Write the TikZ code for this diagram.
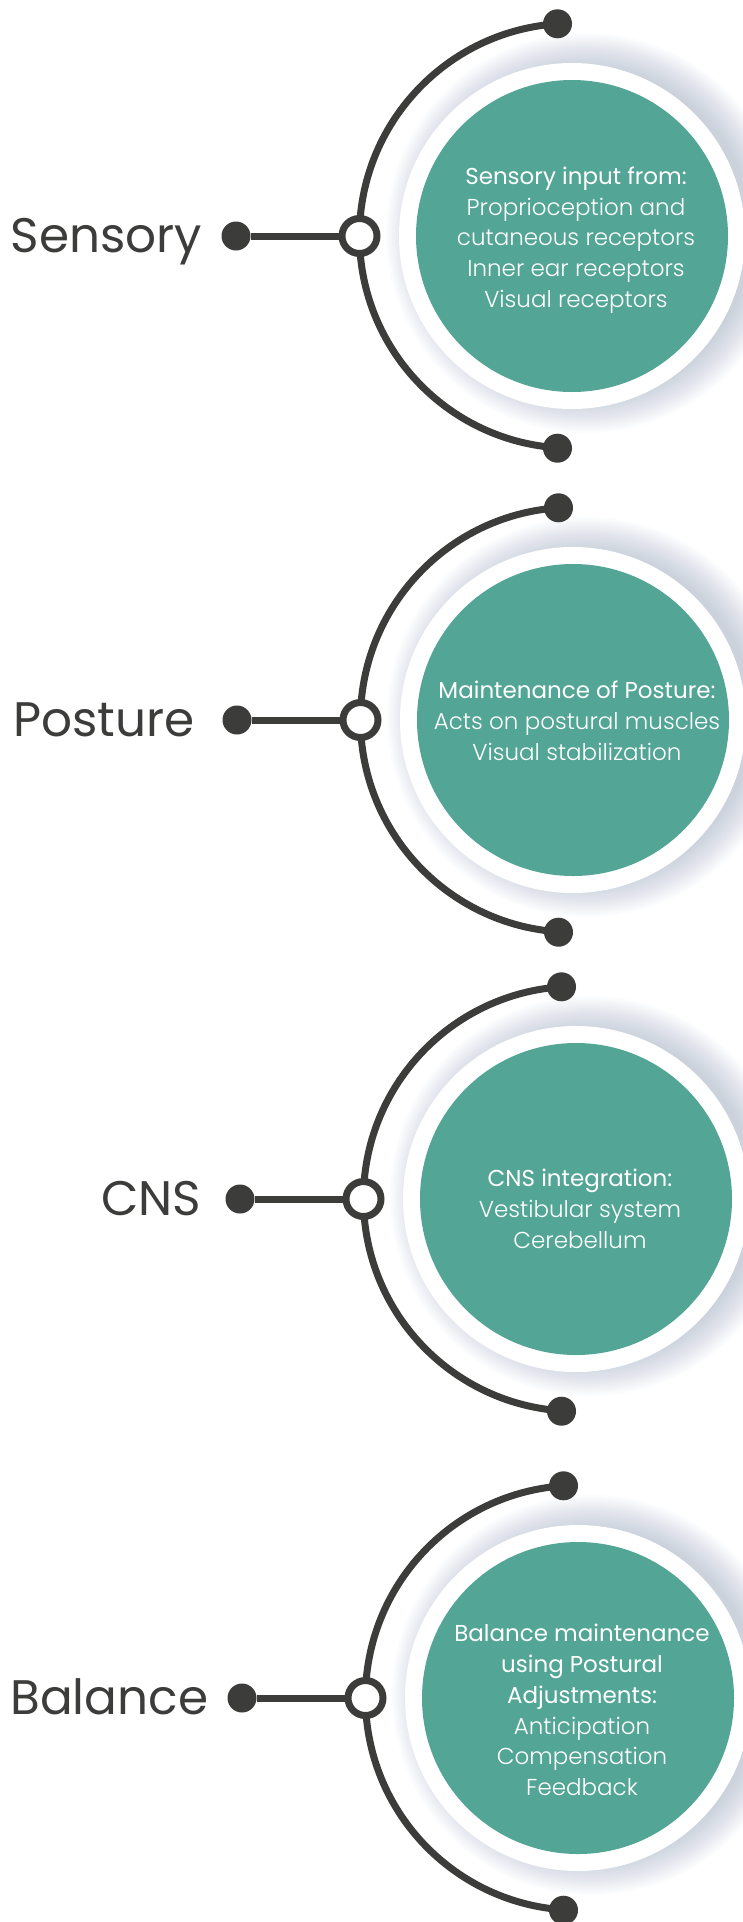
\documentclass[tikz,border=0pt]{standalone}
\usepackage{fontspec}
\setmainfont{Poppins}
\newfontfamily\poplight{Poppins Light}
\usetikzlibrary{calc}
\definecolor{tealfill}{HTML}{53A596}
\definecolor{ink}{HTML}{3C3C3B}
\definecolor{haloblue}{HTML}{8C9DB8}
\tikzset{
  enddot/.style={circle, fill=ink, inner sep=0pt, minimum size=29pt},
  hub/.style={circle, draw=ink, line width=7pt, fill=white, inner sep=0pt, minimum size=35pt},
  conn/.style={draw=ink, line width=7pt},
  stagelabel/.style={text=ink, inner sep=0pt, font=\fontsize{48.5}{52}\selectfont},
  bubble/.style={circle, fill=tealfill, inner sep=0pt, minimum size=312pt},
  bubbletext/.style={text=white, align=center, inner sep=0pt, font=\fontsize{23}{30.8}\selectfont},
}
% #1 id, #2 cx, #3 cy (downwards), #4 label, #5 text shift, #6 text, #7 label shift
\newcommand{\mystage}[7]{%
  \coordinate (c#1) at (#2,-#3);
  \foreach \k in {0,...,17}{\fill[haloblue, opacity=0.027] ($(c#1)+(14,3)$) circle[radius={166+2*\k}];}
  \fill[white] (c#1) circle[radius=173];
  \node[bubble] (b#1) at (c#1) {};
  \node[enddot] (t#1) at ($(c#1)+(-14.5,212.2)$) {};
  \node[enddot] (e#1) at ($(c#1)+(-14.5,-212.2)$) {};
  \draw[conn] (t#1.center) arc[start angle=93.9, end angle=266.1, radius=212.5];
  \node[enddot] (l#1) at ($(c#1)+(-336,0)$) {};
  \node[hub] (h#1) at ($(c#1)+(-212.5,0)$) {};
  \draw[conn] (l#1) -- (h#1);
  \node[stagelabel, anchor=base east] (n#1) at ($(l#1.west)+(-25+#7,-16.5)$) {#4};
  \node[bubbletext] (x#1) at ($(c#1)+(4,#5)$) {#6};
}
\begin{document}
\begin{tikzpicture}[x=1pt,y=1pt]
\useasboundingbox (0,0) rectangle (743,-1922);
\fill[white] (0,0) rectangle (743,-1922);
\clip (0,0) rectangle (743,-1922);
\mystage{1}{572}{236}{Sensory}{-4}{Sensory input from:\\ \poplight Proprioception and\\ \poplight cutaneous receptors\\ \poplight Inner ear receptors\\ \poplight Visual receptors}{6}
\mystage{2}{573}{720}{Posture}{-1}{Maintenance of Posture:\\ \poplight Acts on postural muscles\\ \poplight Visual stabilization}{-2.5}
\mystage{3}{576}{1199}{CNS}{-10}{CNS integration:\\ \poplight Vestibular system\\ \poplight Cerebellum}{1}
\mystage{4}{578}{1698}{Balance}{-12}{Balance maintenance\\ using Postural\\ Adjustments:\\ \poplight Anticipation\\ \poplight Compensation\\ \poplight Feedback}{6}
\end{tikzpicture}
\end{document}
